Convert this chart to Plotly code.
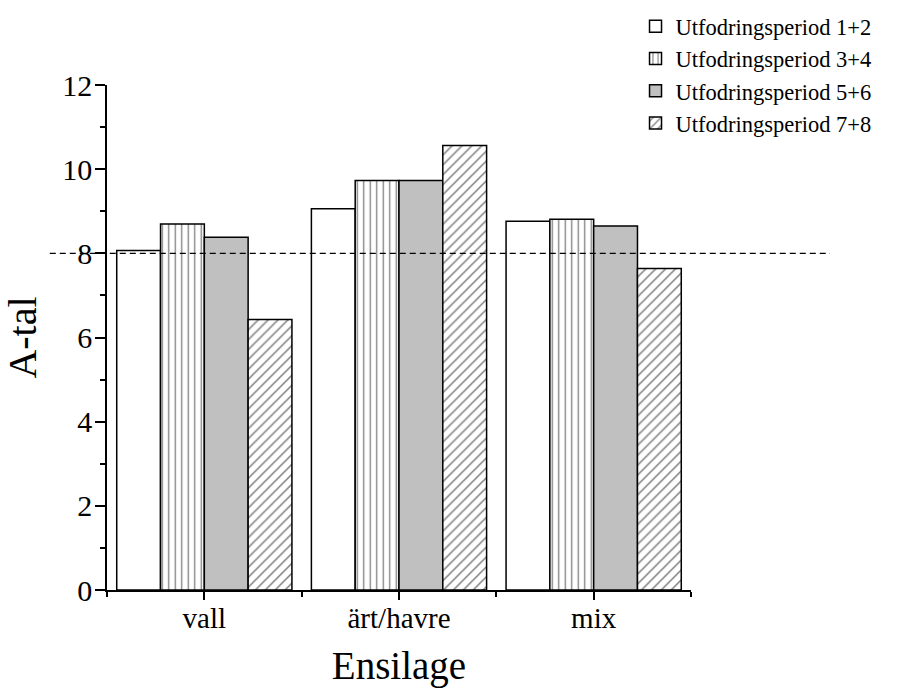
import plotly.graph_objects as go

categories = ["vall", "ärt/havre", "mix"]
series_names = ["Utfodringsperiod 1+2", "Utfodringsperiod 3+4",
                "Utfodringsperiod 5+6", "Utfodringsperiod 7+8"]
p12 = [8.07, 9.06, 8.76]
p34 = [8.70, 9.73, 8.81]
p56 = [8.38, 9.73, 8.65]
p78 = [6.43, 10.56, 7.64]
reference_value = 8
y_ticks = [0, 2, 4, 6, 8, 10, 12]

FONT = "Liberation Serif"
xpos = list(range(len(categories)))

styles = [
    dict(color="white", pattern=dict(shape="")),
    dict(color="white", pattern=dict(shape="|", fgcolor="black", bgcolor="white", size=6.5, solidity=0.2)),
    dict(color="#c0c0c0", pattern=dict(shape="")),
    dict(color="white", pattern=dict(shape="/", fgcolor="black", bgcolor="white", size=7, solidity=0.22)),
]

fig = go.Figure()
for name, vals, st in zip(series_names, [p12, p34, p56, p78], styles):
    fig.add_trace(go.Bar(
        x=xpos, y=vals, name=name,
        marker=dict(color=st["color"], pattern=st["pattern"],
                    line=dict(color="black", width=1.5)),
    ))

fig.add_shape(type="line", xref="paper", yref="y",
              x0=-0.098, x1=1.238, y0=reference_value, y1=reference_value,
              line=dict(color="black", width=1.2, dash="6px,4px"))

fig.update_layout(
    width=901, height=688,
    margin=dict(l=107, r=210, t=85, b=98, autoexpand=False),
    paper_bgcolor="white", plot_bgcolor="white",
    barmode="group", bargap=0.1, bargroupgap=0,
    font=dict(family=FONT, color="black"),
    showlegend=True,
    legend=dict(x=0.905, y=1.158, xanchor="left", yanchor="top",
                font=dict(family=FONT, size=22.5, color="black"),
                bgcolor="rgba(0,0,0,0)", tracegroupgap=0, itemwidth=30),
    xaxis=dict(
        range=[-0.5, 2.5], tickmode="array", tickvals=xpos, ticktext=categories,
        showgrid=False, zeroline=False, showline=True, linecolor="black", linewidth=1.5,
        ticks="outside", ticklen=8, tickwidth=1.5, tickcolor="black",
        tickfont=dict(family=FONT, size=29), ticklabelstandoff=-7,
        minor=dict(tickmode="linear", tick0=-0.5, dtick=1, ticks="outside",
                   ticklen=5, tickwidth=1.5, tickcolor="black", showgrid=False),
        title=dict(text="Ensilage", font=dict(family=FONT, size=39), standoff=23),
    ),
    yaxis=dict(
        range=[0, 12], tickmode="array", tickvals=y_ticks,
        showgrid=False, zeroline=False, showline=True, linecolor="black", linewidth=1.5,
        ticks="outside", ticklen=10, tickwidth=1.5, tickcolor="black",
        tickfont=dict(family=FONT, size=30), ticklabelstandoff=-3,
        minor=dict(tickmode="linear", tick0=1, dtick=2, ticks="outside",
                   ticklen=5, tickwidth=1.5, tickcolor="black", showgrid=False),
        title=dict(text="A-tal", font=dict(family=FONT, size=40), standoff=15),
    ),
)

fig.write_html("out.html")
